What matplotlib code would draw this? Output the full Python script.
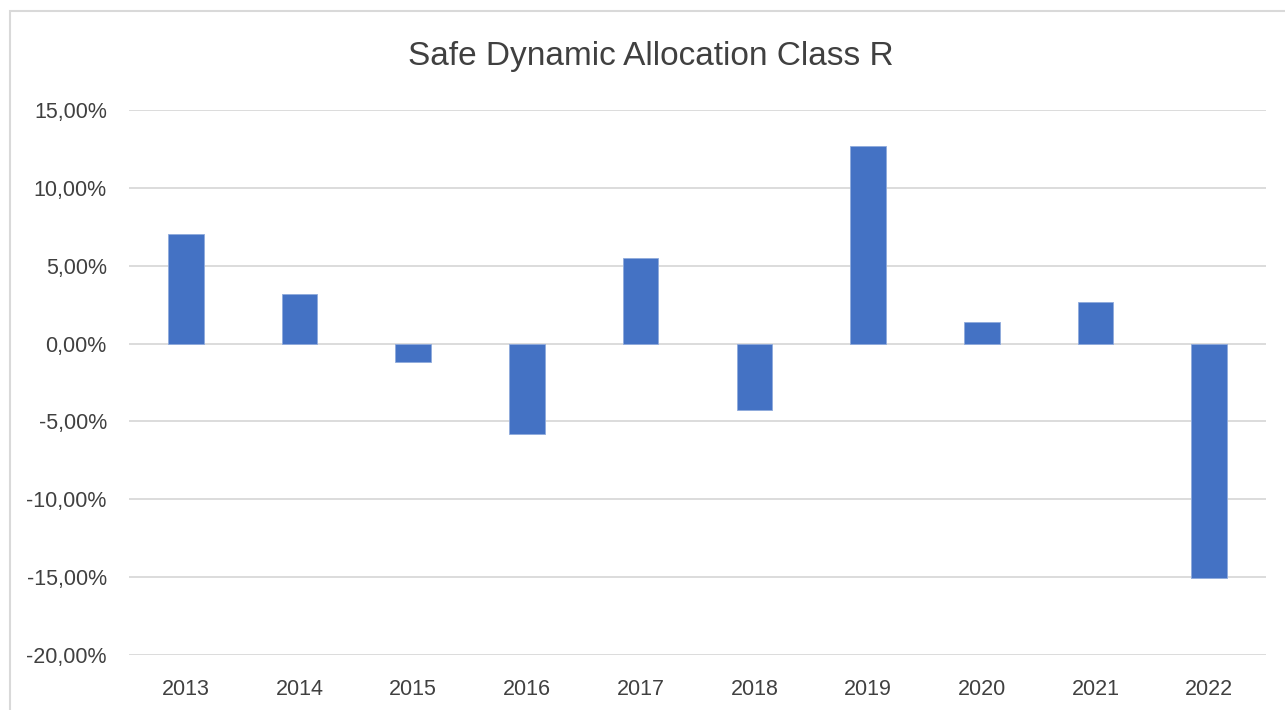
import matplotlib.pyplot as plt
from matplotlib.patches import Rectangle
from matplotlib.ticker import FuncFormatter, MultipleLocator

plt.rcParams.update({
    "font.family": "Liberation Sans",
    "font.size": 14,
})

years = ["2013", "2014", "2015", "2016", "2017", "2018", "2019", "2020", "2021", "2022"]
returns = [7.06, 3.21, -1.18, -5.78, 5.49, -4.28, 12.66, 1.39, 2.67, -15.06]

text_col = "#404040"
grid_col = "#d9d9d9"

fig = plt.figure(figsize=(12.85, 7.1), dpi=100)
ax = fig.add_axes([129 / 1285, 55 / 710, 1137 / 1285, 545 / 710])

x = range(len(years))
ax.bar(x, returns, width=0.313, color="#4472c4", edgecolor="#8faadc",
       linewidth=0.6, zorder=3)

ax.set_xlim(-0.5, len(years) - 0.5)
ax.set_ylim(-20, 15)
ax.yaxis.set_major_locator(MultipleLocator(5))
ax.yaxis.set_major_formatter(FuncFormatter(lambda v, p: f"{v:.2f}%".replace(".", ",")))
ax.set_xticks(list(x))
ax.set_xticklabels(years)

ax.grid(axis="y", color=grid_col, linewidth=1.3, zorder=0)
for s in ax.spines.values():
    s.set_visible(False)
ax.tick_params(axis="both", length=0, colors=text_col, labelsize=15.5)
ax.tick_params(axis="y", pad=16)
ax.tick_params(axis="x", pad=17)

fig.text(651 / 1285, 1 - 57 / 710, "Safe Dynamic Allocation Class R",
         ha="center", va="center", fontsize=24, color=text_col)

# chart border (cropped at right and bottom)
fig.patches.append(Rectangle((10 / 1285, -0.1), 1.2, 1 - 11 / 710 + 0.1,
                             transform=fig.transFigure, fill=False,
                             edgecolor=grid_col, linewidth=1.5, clip_on=False))

fig.savefig("out.png", dpi=100)
